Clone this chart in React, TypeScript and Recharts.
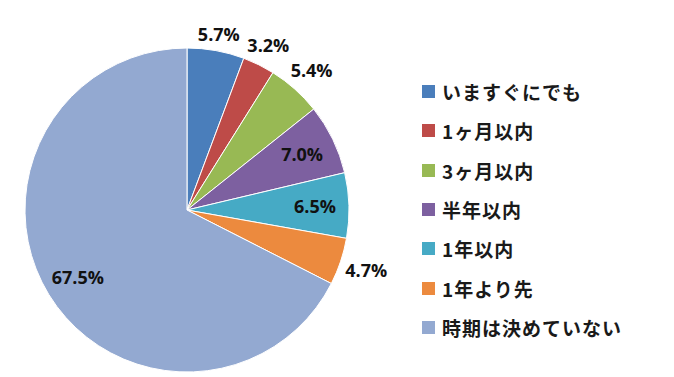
import React from 'react';
import { PieChart, Pie, Cell, Legend } from 'recharts';

const CATEGORIES = ['いますぐにでも', '1ヶ月以内', '3ヶ月以内', '半年以内', '1年以内', '1年より先', '時期は決めていない'];
const SHARES = [5.7, 3.2, 5.4, 7.0, 6.5, 4.7, 67.5];
const COLORS = ['#4A7EBB', '#BE4B48', '#98B954', '#7D60A0', '#46AAC5', '#EC8A3E', '#93A9D1'];

const data = CATEGORIES.map((name, i) => ({ name, value: SHARES[i] }));

const RAD = Math.PI / 180;

const renderLabel = (props: any) => {
  const { cx, cy, midAngle, outerRadius, value } = props;
  const cos = Math.cos(-midAngle * RAD);
  const sin = Math.sin(-midAngle * RAD);
  // small slices get their label outside, like Excel's best fit;
  // push the text box just clear of the rim
  const r = value < 6
    ? outerRadius + 3 + Math.abs(cos) * 22 + Math.abs(sin) * 10
    : outerRadius * 0.79;
  const x = cx + r * cos;
  const y = cy + r * sin;
  return (
    <text
      x={x}
      y={y}
      fill="#111"
      textAnchor="middle"
      dominantBaseline="central"
      style={{ fontFamily: '"Open Sans", "Noto Sans", sans-serif', fontWeight: 700, fontSize: 18 }}
    >
      {value.toFixed(1)}%
    </text>
  );
};

const renderLegend = (props: any) => {
  // keep the series order, the legend would otherwise sort by name
  const payload = [...(props.payload || [])].sort(
    (a: any, b: any) => CATEGORIES.indexOf(a.value) - CATEGORIES.indexOf(b.value)
  );
  return (
    <div style={{ display: 'flex', flexDirection: 'column' }}>
      {payload.map((entry: any, i: number) => (
        <div key={`item-${i}`} style={{ display: 'flex', alignItems: 'center', height: 39.3 }}>
          <span style={{ width: 13, height: 13, background: entry.color, display: 'inline-block', marginRight: 7 }} />
          <span style={{ fontFamily: '"Noto Sans CJK JP", sans-serif', fontSize: 19, fontWeight: 700, color: '#1a1a1a', letterSpacing: 1 }}>
            {entry.value}
          </span>
        </div>
      ))}
    </div>
  );
};

export default function App() {
  return (
    <div style={{ position: 'absolute', left: 0, top: 0, width: 674, height: 377, background: '#fff' }}>
      <PieChart width={674} height={377} margin={{ top: 0, right: 0, bottom: 0, left: 0 }}>
        <Pie
          data={data}
          dataKey="value"
          nameKey="name"
          cx={187}
          cy={210}
          outerRadius={162}
          startAngle={90}
          endAngle={-270}
          stroke="#fff"
          strokeWidth={1}
          label={renderLabel}
          labelLine={false}
          isAnimationActive={false}
        >
          {data.map((entry, index) => (
            <Cell key={`cell-${index}`} fill={COLORS[index % COLORS.length]} />
          ))}
        </Pie>
        <Legend
          layout="vertical"
          align="right"
          verticalAlign="top"
          content={renderLegend}
          wrapperStyle={{ left: 422, top: 72, width: 252 }}
        />
      </PieChart>
    </div>
  );
}
